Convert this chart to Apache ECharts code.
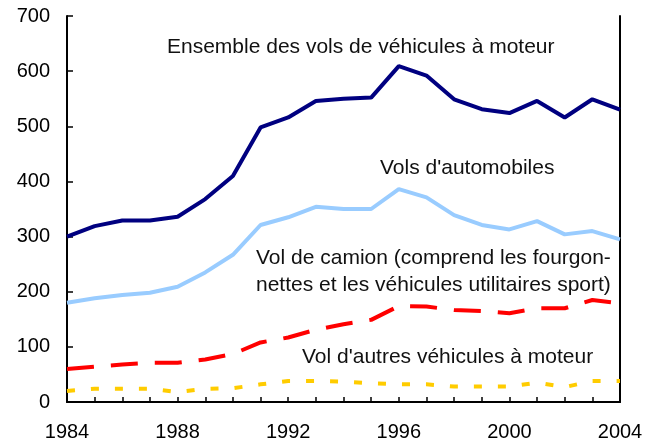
<!DOCTYPE html>
<html>
<head>
<meta charset="utf-8">
<script src="https://cdn.jsdelivr.net/npm/echarts@6/dist/echarts.min.js"></script>
<style>html,body{margin:0;padding:0;background:#fff}#c{width:657px;height:442px}</style>
</head>
<body>
<div id="c"></div>
<script>
var years = ['1984','1985','1986','1987','1988','1989','1990','1991','1992','1993','1994','1995','1996','1997','1998','1999','2000','2001','2002','2003','2004'];
var totalVals = [300,319,329,329,336,368,410,498,516,546,550,552,609,592,549,531,524,546,516,549,530];
var carVals = [180,188,194,198,209,235,267,321,335,354,350,350,386,371,339,321,313,328,304,310,295];
var truckVals = [60,64,68,71,71,77,87,108,117,131,141,149,174,173,167,165,161,170,170,185,179];
var otherVals = [20,24,24,24,18,24,25,32,38,38,37,34,32,32,28,28,28,35,27,38,38];
var yTicks = [0,100,200,300,400,500,600,700];

var chart = echarts.init(document.getElementById('c'), null, {renderer:'canvas'});
var noteFont = 'Liberation Sans';
var axisFont = 'Liberation Sans';
function note(x, y, t){
  return {type:'text', x:x, y:y, style:{text:t, fill:'#111', fontSize:21, fontFamily:noteFont, verticalAlign:'middle', align:'left'}};
}
chart.setOption({
  animation:false,
  grid:{left:67,right:37,top:16,bottom:40,containLabel:false},
  xAxis:[{
    type:'category', data:years, boundaryGap:false,
    axisLine:{lineStyle:{color:'#000',width:2}},
    axisTick:{inside:true,length:5,interval:0,lineStyle:{color:'#000',width:1.5}},
    axisLabel:{interval:3,color:'#000',fontSize:20,fontFamily:axisFont,margin:20},
    splitLine:{show:false}
  },{
    type:'category', data:years, boundaryGap:false, position:'top',
    axisLine:{lineStyle:{color:'#000',width:1}},
    axisTick:{show:false}, axisLabel:{show:false}, splitLine:{show:false}
  }],
  yAxis:[{
    type:'value', min:yTicks[0], max:yTicks[yTicks.length-1], interval:100,
    axisLine:{show:true,lineStyle:{color:'#000',width:2}},
    axisTick:{show:true,inside:true,length:6,lineStyle:{color:'#000',width:1.5}},
    axisLabel:{color:'#000',fontSize:20,fontFamily:axisFont,margin:17},
    splitLine:{show:false}
  },{
    type:'value', min:0, max:700, interval:100, position:'right',
    axisLine:{show:true,lineStyle:{color:'#000',width:2}},
    axisTick:{show:false}, axisLabel:{show:false}, splitLine:{show:false}
  }],
  series:[
    {name:'Ensemble', type:'line', data:totalVals, symbol:'none', lineStyle:{color:'#000080',width:4}, z:4},
    {name:'Automobiles', type:'line', data:carVals, symbol:'none', lineStyle:{color:'#99CCFF',width:4}, z:3},
    {name:'Camion', type:'line', data:truckVals, symbol:'none', lineStyle:{color:'#FF0000',width:4,type:[27,17]}, z:3},
    {name:'Autres', type:'line', data:otherVals, symbol:'none', lineStyle:{color:'#FFCC00',width:4,type:[8,16]}, z:3}
  ],
  graphic:[
    note(167, 47, 'Ensemble des vols de véhicules à moteur'),
    note(380, 168, "Vols d'automobiles"),
    note(256, 258, 'Vol de camion (comprend les fourgon-'),
    note(256, 285, 'nettes et les véhicules utilitaires sport)'),
    note(302, 357, "Vol d'autres véhicules à moteur")
  ]
});
</script>
</body>
</html>
